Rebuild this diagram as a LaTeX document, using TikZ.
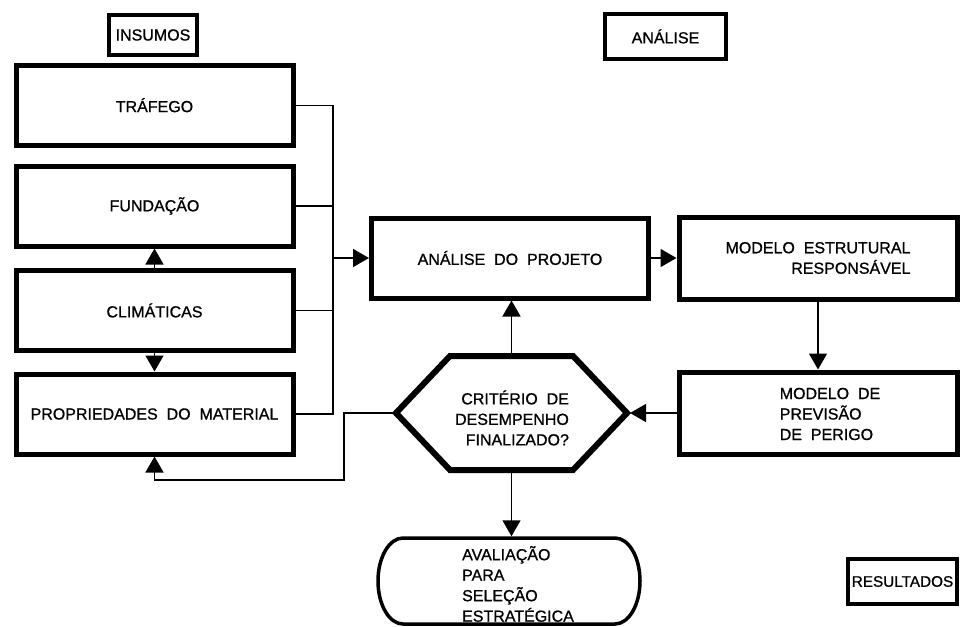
\documentclass[tikz,border=0pt]{standalone}
\usepackage{fontspec}
\setmainfont{Liberation Sans}[WordSpace=2, FakeBold=0.9]
\usetikzlibrary{arrows.meta,calc}

\begin{document}
\begin{tikzpicture}[x=1pt,y=-1pt,
  txt/.style={font=\fontsize{16}{20.5}\selectfont, inner sep=0pt},
  inbox/.style={txt, draw, line width=5pt, minimum width=277pt, minimum height=80pt},
  sidebox/.style={inbox, minimum width=278pt, minimum height=82pt},
  tag/.style={txt, draw, line width=4.5pt},
  link/.style={line width=1.5pt},
  arr/.style={link, -{Triangle[length=16pt,width=18pt]}},
  hexline/.style={line width=6pt, line join=miter},
  capline/.style={line width=3.5pt, line join=round}]

\useasboundingbox (0,0) rectangle (960,626);

% section labels
\node[tag, minimum width=88pt, minimum height=40pt] (insumos) at (153,35) {INSUMOS};
\node[tag, minimum width=121pt, minimum height=45pt] (analise) at (665.5,36.5) {ANÁLISE};
\node[tag, minimum width=109pt, minimum height=45pt, font=\fontsize{15.3}{18}\selectfont] (result) at (902.5,581.5) {RESULTADOS};

% input boxes
\node[inbox] (traf) at (154.5,105.25) {TRÁFEGO};
\node[inbox] (fund) at (154.5,206) {FUNDAÇÃO};
\node[inbox] (clim) at (154.5,310.5) {CLIMÁTICAS};
\node[inbox] (prop) at (154.5,414) {PROPRIEDADES DO MATERIAL};

% analysis boxes
\node[inbox] (proj) at (510,258) {ANÁLISE DO PROJETO};
\node[sidebox, align=right] (estr) at (818,258) {MODELO ESTRUTURAL\\RESPONSÁVEL};
\node[sidebox] (prev) at (818,413) {};
\node[txt, align=left] (prevtxt) at (830,414) {MODELO DE\\PREVISÃO\\DE PERIGO};

% decision hexagon
\node[minimum width=231pt, minimum height=114pt, inner sep=0pt, outer sep=3pt] (crit) at (511.5,413) {};
\draw[hexline] ($(crit.center)+(-115.5,0)$) -- ++(54,-57) -- ++(123,0) -- ++(54,57)
  -- ++(-54,57) -- ++(-123,0) -- cycle;
\node[txt, align=right] (crittxt) at (512,418) {CRITÉRIO DE\\DESEMPENHO\\FINALIZADO?};

% terminal (rounded) box
\node[minimum width=262pt, minimum height=86pt, inner sep=0pt, outer sep=1.75pt] (aval) at (509,581) {};
\draw[capline] ($(aval.center)+(-106,-43)$) -- ++(212,0)
  arc[start angle=-90, end angle=90, x radius=25, y radius=43] -- ++(-212,0)
  arc[start angle=90, end angle=270, x radius=25, y radius=43] -- cycle;
\node[txt, align=left] (avaltxt) at (518,584) {AVALIAÇÃO\\PARA\\SELEÇÃO\\ESTRATÉGICA};

% collector line of the inputs
\coordinate (bus) at (333,0);
\draw[link] (traf.east) -- (traf.east -| bus) -- (prop.east -| bus) -- (prop.east);
\draw[link] (fund.east) -- (fund.east -| bus);
\draw[link] (clim.east) -- (clim.east -| bus);
\draw[arr] (proj.west -| bus) -- (proj.west);

% arrows between the input boxes
\draw[arr] (clim.north) -- (fund.south);
\draw[arr] (clim.south) -- (prop.north);

% analysis loop
\draw[arr] (proj.east) -- (estr.west);
\draw[arr] (estr.south) -- (prev.north);
\draw[arr] (prev.west) -- (crit.east);
\draw[arr] (crit.north) -- (crit.north |- proj.south);
\draw[arr] (crit.south) -- (crit.south |- aval.north);

% feedback to the material properties
\coordinate (ret) at (344,480);
\draw[arr] (crit.west) -- (crit.west -| ret) -- (ret) -- (ret -| prop.south) -- (prop.south);
\end{tikzpicture}
\end{document}
